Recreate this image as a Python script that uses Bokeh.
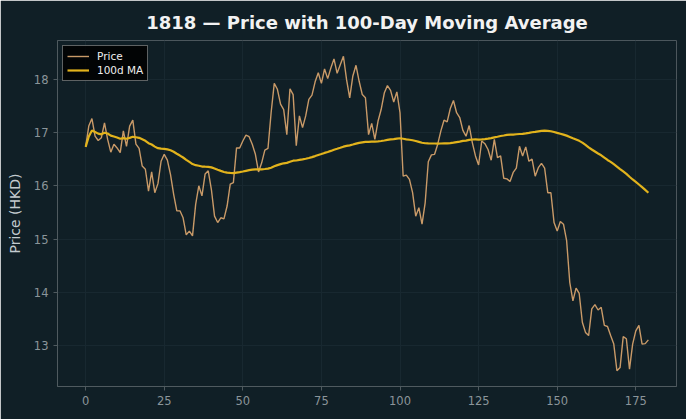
import pandas as pd
from bokeh.plotting import figure
from bokeh.models import Range1d, FixedTicker
from bokeh.embed import file_html
from bokeh.resources import INLINE

# ---- data ----
days = list(range(180))
price = [
    16.73, 17.12, 17.26, 16.93, 16.85, 16.90, 17.18, 16.87, 16.63, 16.78,
    16.71, 16.62, 17.03, 16.74, 17.12, 17.23, 16.78, 16.70, 16.37, 16.31,
    15.90, 16.26, 15.87, 16.04, 16.46, 16.59, 16.48, 16.21, 15.84, 15.53,
    15.53, 15.40, 15.08, 15.15, 15.06, 15.65, 16.00, 15.81, 16.22, 16.28,
    15.93, 15.43, 15.31, 15.40, 15.38, 15.62, 16.03, 16.06, 16.71, 16.71,
    16.84, 16.95, 16.92, 16.78, 16.59, 16.26, 16.43, 16.67, 16.70, 17.37,
    17.92, 17.81, 17.53, 17.43, 16.96, 17.82, 17.71, 16.75, 17.31, 17.09,
    17.31, 17.62, 17.70, 17.95, 18.12, 17.92, 18.19, 18.01, 18.21, 18.38,
    18.11, 18.27, 18.43, 17.99, 17.65, 18.06, 18.26, 17.96, 17.71, 17.65,
    16.96, 17.17, 16.87, 17.21, 17.43, 17.74, 17.88, 17.79, 17.57, 17.76,
    17.37, 16.18, 16.20, 16.12, 15.87, 15.43, 15.59, 15.28, 15.68, 16.45,
    16.58, 16.59, 16.78, 17.03, 17.23, 17.20, 17.45, 17.60, 17.37, 17.28,
    17.04, 16.93, 17.13, 16.81, 16.56, 16.39, 16.84, 16.79, 16.68, 16.48,
    16.87, 16.53, 16.56, 16.14, 16.13, 16.08, 16.25, 16.33, 16.74, 16.56,
    16.73, 16.46, 16.50, 16.18, 16.34, 16.42, 16.33, 15.87, 15.87, 15.31,
    15.15, 15.33, 15.28, 14.97, 14.19, 13.84, 14.08, 13.98, 13.44, 13.25,
    13.19, 13.69, 13.77, 13.67, 13.72, 13.38, 13.36, 13.19, 13.03, 12.53,
    12.59, 13.17, 13.13, 12.56, 13.03, 13.28, 13.38, 13.03, 13.04, 13.11,
]
ma_window = 100
ma = pd.Series(price).rolling(ma_window, min_periods=1).mean().tolist()

title_text = "1818 \u2014 Price with 100-Day Moving Average"
y_label = "Price (HKD)"
x_ticks = [0, 25, 50, 75, 100, 125, 150, 175]
y_ticks = [13, 14, 15, 16, 17, 18]

# ---- styling ----
BG = "#101f26"
PRICE_COLOR = "#c99a68"
MA_COLOR = "#e2b31c"
TICK_COLOR = "#8b959a"
LABEL_COLOR = "#c3cbcf"
GRID_COLOR = "#182830"
AXIS_COLOR = "#4f5a5f"

xmin, xmax = min(days), max(days)
ymin, ymax = min(price + ma), max(price + ma)
xm = (xmax - xmin) * 0.05
ym = (ymax - ymin) * 0.05

p = figure(width=686, height=419, output_backend="svg", toolbar_location=None,
           x_range=Range1d(xmin - xm, xmax + xm), y_range=Range1d(ymin - ym, ymax + ym),
           min_border_left=57, min_border_right=10, min_border_top=40, min_border_bottom=33)

p.background_fill_color = BG
p.border_fill_color = BG
p.outline_line_color = None

p.title.text = title_text
p.title.align = "center"
p.title.text_color = "#f2f2f2"
p.title.text_font = "DejaVu Sans"
p.title.text_font_size = "18px"
p.title.text_font_style = "bold"
p.title.standoff = 15

p.line(days, price, line_color=PRICE_COLOR, line_width=1.4, legend_label="Price")
p.line(days, ma, line_color=MA_COLOR, line_width=2.2, legend_label="100d MA")

for ax in (p.xaxis, p.yaxis):
    ax.axis_line_color = AXIS_COLOR
    ax.major_tick_line_color = AXIS_COLOR
    ax.major_tick_out = 4
    ax.major_tick_in = 0
    ax.minor_tick_line_color = None
    ax.major_label_text_color = TICK_COLOR
    ax.major_label_text_font = "DejaVu Sans"
    ax.major_label_text_font_size = "11.5px"

p.xaxis.ticker = FixedTicker(ticks=x_ticks)
p.yaxis.ticker = FixedTicker(ticks=y_ticks)
p.yaxis.axis_label = y_label
p.yaxis.axis_label_text_font = "DejaVu Sans"
p.yaxis.axis_label_text_font_size = "14px"
p.yaxis.axis_label_text_font_style = "normal"
p.yaxis.axis_label_text_color = LABEL_COLOR
p.yaxis.axis_label_standoff = 8

p.xgrid.grid_line_color = GRID_COLOR
p.ygrid.grid_line_color = GRID_COLOR
p.xgrid.ticker = FixedTicker(ticks=x_ticks)
p.ygrid.ticker = FixedTicker(ticks=y_ticks)

lg = p.legend[0]
lg.location = "top_left"
lg.margin = 5
lg.padding = 4
lg.spacing = 2
lg.background_fill_color = "#000000"
lg.background_fill_alpha = 0.85
lg.border_line_color = "#b9bfc2"
lg.border_line_width = 1
lg.label_text_color = "#eeeeee"
lg.label_text_font = "DejaVu Sans"
lg.label_text_font_size = "10.5px"
lg.glyph_width = 22
lg.glyph_height = 12
lg.label_standoff = 8
lg.label_height = 12

open("out.html", "w").write(file_html(p, INLINE))
